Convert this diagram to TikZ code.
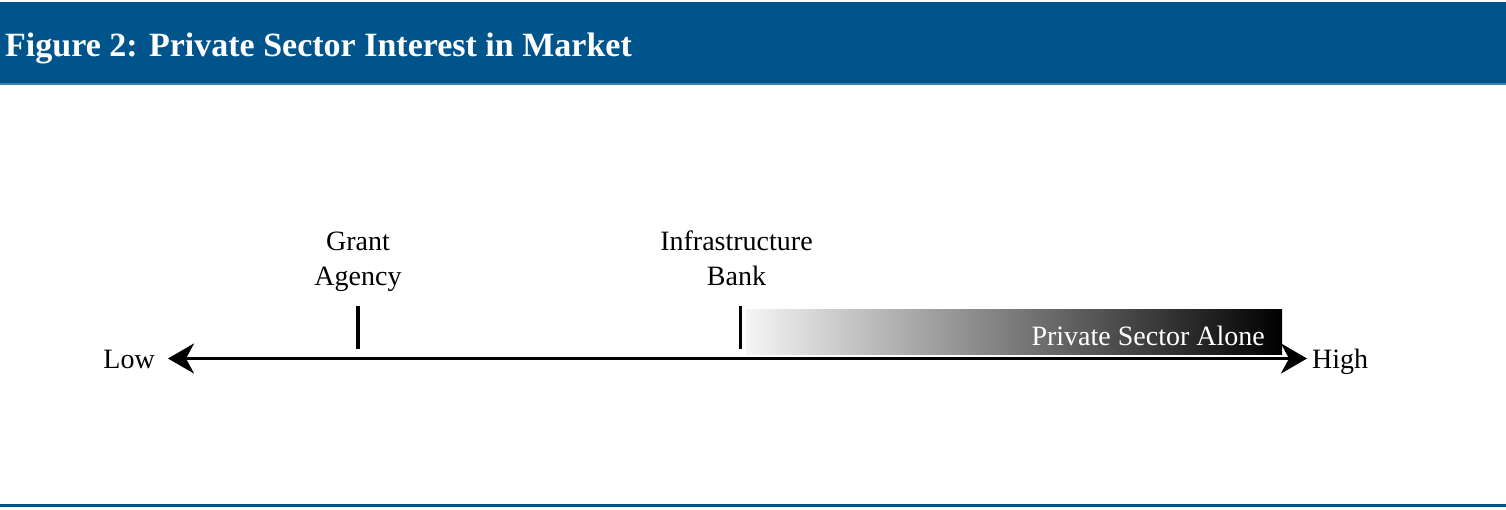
\documentclass[tikz,border=0pt]{standalone}
\usepackage{fontspec}
\setmainfont{Liberation Serif}
\usetikzlibrary{arrows.meta, positioning}
\definecolor{bandblue}{RGB}{0,84,140}
\definecolor{bandline}{RGB}{62,126,176}

\begin{document}
\begin{tikzpicture}[x=1pt, y=-1pt,
    axislabel/.style={font=\fontsize{28}{35}\selectfont, inner sep=0pt, align=center},
    axistick/.style={line width=3.2pt},
    axisline/.style={{Stealth[length=26pt, width=30pt, inset=8pt]}-{Stealth[length=26pt, width=30pt, inset=8pt]}, line width=2.8pt},
]
  \useasboundingbox (0,0) rectangle (1506,510);

  % header band and bottom rule
  \fill[bandblue] (0,2) rectangle (1506,83);
  \fill[bandline] (0,83) rectangle (1506,85.5);
  \node[anchor=base west, inner sep=0pt, text=white, font=\fontsize{34}{40}\selectfont\bfseries] (title) at (5,57) {Figure 2: Private Sector Interest in Market};
  \fill[bandblue] (0,504) rectangle (1506,507);

  % the scale
  \coordinate (lowend) at (168,358.5);
  \coordinate (highend) at (1307,358.5);
  \shade[left color=black!4, middle color=black!40, right color=black] (746,310) rectangle (1282,354);
  \node[axislabel, anchor=base east, text=white] (alone) at (1265,345) {Private Sector Alone};
  \draw[axisline] (lowend) -- (highend);
  \node[axislabel, anchor=base east] (low) at (155,368) {Low};
  \node[axislabel, anchor=base west] (high) at (1312,368) {High};

  % markers
  \coordinate (grantfoot) at (358,349);
  \coordinate (granttop) at (358,306);
  \draw[axistick] (grantfoot) -- (granttop);
  \node[axislabel, above=14pt of granttop] (grant) {Grant\\Agency};

  \coordinate (bankfoot) at (740.5,349);
  \coordinate (banktop) at (740.5,306);
  \draw[axistick] (bankfoot) -- (banktop);
  \node[axislabel, above=20pt of banktop, xshift=-4pt] (bank) {Infrastructure\\Bank};
\end{tikzpicture}
\end{document}
